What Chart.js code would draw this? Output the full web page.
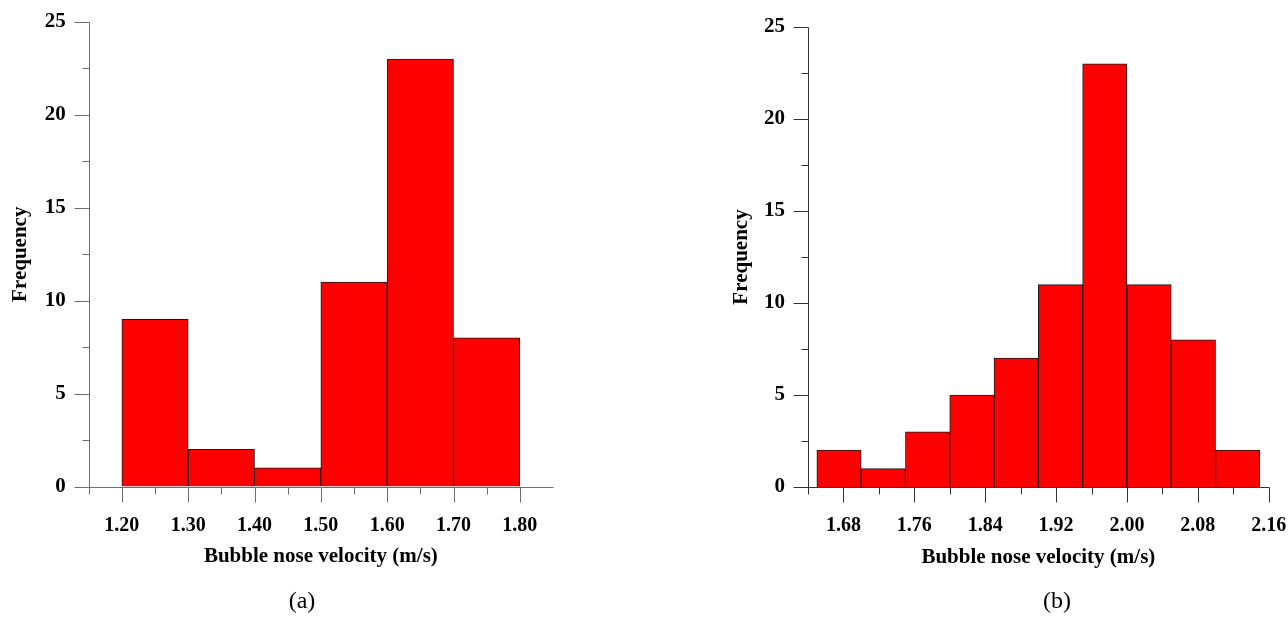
<!DOCTYPE html>
<html>
<head>
<meta charset="utf-8">
<script src="https://cdn.jsdelivr.net/npm/chart.js@4.4.0/dist/chart.umd.min.js"></script>
<style>
  html, body { margin: 0; padding: 0; background: #fff; }
  body { width: 1288px; height: 626px; position: relative; overflow: hidden; }
  canvas { position: absolute; top: 0; }
  #chartA { left: 0; }
  #chartB { left: 644px; }
  .caption { position: absolute; top: 587px; width: 60px; margin-left: -30px; text-align: center;
             font: 24px "Liberation Serif", "Times New Roman", serif; color: #000; }
</style>
</head>
<body>
<canvas id="chartA" width="640" height="626"></canvas>
<canvas id="chartB" width="644" height="626"></canvas>
<div class="caption" style="left:302px">(a)</div>
<div class="caption" style="left:1057px">(b)</div>
<script>
// panel (a)
const binStartA = [1.20, 1.30, 1.40, 1.50, 1.60, 1.70];
const countsA = [9, 2, 1, 11, 23, 8];
const majorTicksA = [1.20, 1.30, 1.40, 1.50, 1.60, 1.70, 1.80];
const minorTicksA = [1.15, 1.25, 1.35, 1.45, 1.55, 1.65, 1.75];

// panel (b)
const binStartB = [1.65, 1.70, 1.75, 1.80, 1.85, 1.90, 1.95, 2.00, 2.05, 2.10];
const countsB = [2, 1, 3, 5, 7, 11, 23, 11, 8, 2];
const majorTicksB = [1.68, 1.76, 1.84, 1.92, 2.00, 2.08, 2.16];
const minorTicksB = [1.64, 1.72, 1.80, 1.88, 1.96, 2.04, 2.12];

// shared y axis
const yMajor = [0, 5, 10, 15, 20, 25];
const yMinor = [2.5, 7.5, 12.5, 17.5, 22.5];

const FONT = '"Liberation Serif", "Times New Roman", serif';

// axis lines + outward major/minor tick marks
const axisTicks = {
  id: 'axisTicks',
  afterDatasetsDraw(chart, args, opts) {
    const { ctx } = chart;
    const x = chart.scales.x, y = chart.scales.y;
    const px = v => Math.round(x.getPixelForValue(v)) + 0.5;
    const py = v => Math.round(y.getPixelForValue(v)) + 0.5;
    const xl = px(x.min), yb = py(0);
    ctx.save();
    ctx.strokeStyle = opts.color;
    ctx.lineWidth = 1;
    ctx.beginPath();
    ctx.moveTo(xl, py(y.max)); ctx.lineTo(xl, yb);
    ctx.moveTo(xl, yb); ctx.lineTo(px(x.max), yb);
    opts.xMajor.forEach(v => { ctx.moveTo(px(v), yb); ctx.lineTo(px(v), yb + 15); });
    opts.xMinor.forEach(v => { ctx.moveTo(px(v), yb); ctx.lineTo(px(v), yb + 7); });
    yMajor.forEach(v => { ctx.moveTo(xl, py(v)); ctx.lineTo(xl - 15, py(v)); });
    yMinor.forEach(v => { ctx.moveTo(xl, py(v)); ctx.lineTo(xl - 7, py(v)); });
    ctx.stroke();
    ctx.restore();
  }
};

function histogram(id, p) {
  const w = p.bins[1] - p.bins[0];
  return new Chart(document.getElementById(id), {
    type: 'bar',
    data: {
      datasets: [{
        data: p.bins.map((s, i) => ({ x: s + w / 2, y: p.counts[i] })),
        backgroundColor: '#ff0000',
        borderColor: '#1a1a1a',
        borderWidth: 1,
        barPercentage: 1,
        categoryPercentage: 1
      }]
    },
    options: {
      responsive: false,
      animation: false,
      layout: { padding: p.padding },
      plugins: {
        legend: { display: false },
        tooltip: { enabled: false },
        axisTicks: { color: p.axisColor, xMajor: p.xMajor, xMinor: p.xMinor }
      },
      scales: {
        x: {
          type: 'linear',
          offset: false,
          min: p.xMin,
          max: p.xMax,
          afterBuildTicks: s => { s.ticks = p.xMajor.map(v => ({ value: v })); },
          afterFit: s => { s.height = 90; s.paddingLeft = 0; s.paddingRight = 0; },
          grid: { display: false, drawTicks: false },
          border: { display: false },
          ticks: {
            autoSkip: false, maxRotation: 0, padding: 27, color: '#000',
            font: { family: FONT, size: 20, weight: 'bold' },
            callback: v => v.toFixed(2)
          },
          title: {
            display: true, text: 'Bubble nose velocity (m/s)', color: '#000',
            font: { family: FONT, size: 21, weight: 'bold' },
            padding: { top: 0, bottom: 7 }
          }
        },
        y: {
          min: 0,
          max: 25,
          afterBuildTicks: s => { s.ticks = yMajor.map(v => ({ value: v })); },
          afterFit: s => { s.width = p.yWidth; s.paddingTop = 0; s.paddingBottom = 0; },
          grid: { display: false, drawTicks: false },
          border: { display: false },
          ticks: {
            padding: 23, color: '#000',
            font: { family: FONT, size: 21, weight: 'bold' }
          },
          title: {
            display: true, text: 'Frequency', color: '#000',
            font: { family: FONT, size: 21, weight: 'bold' },
            padding: { top: p.titleOffset, bottom: 0 }
          }
        }
      }
    },
    plugins: [axisTicks]
  });
}

histogram('chartA', {
  bins: binStartA, counts: countsA, xMajor: majorTicksA, xMinor: minorTicksA,
  xMin: 1.15, xMax: 1.85, yWidth: 88.7, titleOffset: 8, axisColor: '#6e6e6e',
  padding: { left: 0, top: 22, right: 87, bottom: 49.5 }
});

histogram('chartB', {
  bins: binStartB, counts: countsB, xMajor: majorTicksB, xMinor: minorTicksB,
  xMin: 1.64, xMax: 2.16, yWidth: 164, titleOffset: 85, axisColor: '#333',
  padding: { left: 0, top: 27, right: 19.3, bottom: 49 }
});
</script>
</body>
</html>
